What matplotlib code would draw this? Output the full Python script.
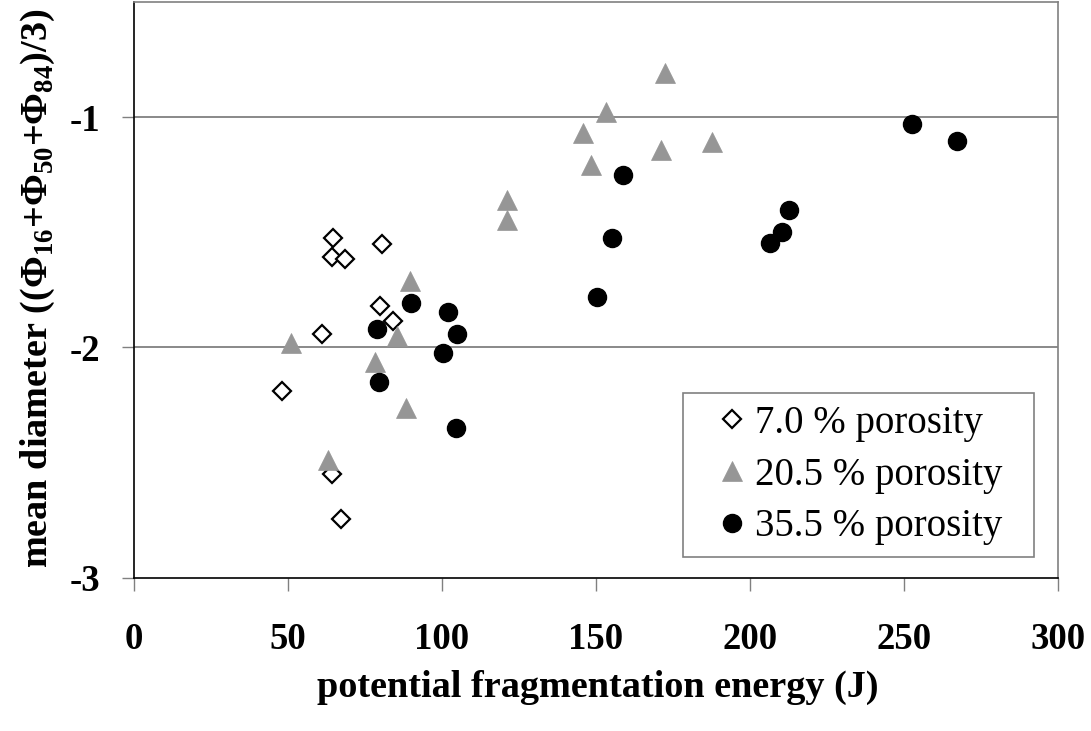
import matplotlib.pyplot as plt

plt.rcParams['font.family'] = ['Liberation Serif', 'DejaVu Serif']
plt.rcParams['mathtext.fontset'] = 'custom'
plt.rcParams['mathtext.rm'] = 'Liberation Serif:bold'
plt.rcParams['mathtext.bf'] = 'Liberation Serif:bold'
plt.rcParams['axes.unicode_minus'] = False

# 7.0 % porosity
energy_7 = [48.0, 61.1, 64.7, 64.2, 68.5, 80.6, 79.9, 84.2, 64.2, 67.2]
diam_7 = [-2.188, -1.940, -1.525, -1.608, -1.617, -1.550, -1.818, -1.883, -2.549, -2.746]

# 20.5 % porosity
energy_20 = [50.9, 89.7, 85.4, 78.1, 88.4, 63.0, 172.5, 153.2, 145.8, 187.6,
             171.2, 148.3, 121.1, 121.1]
diam_20 = [-1.980, -1.712, -1.951, -2.061, -2.264, -2.488, -0.809, -0.978, -1.068, -1.109,
           -1.142, -1.206, -1.359, -1.447]

# 35.5 % porosity
energy_35 = [158.8, 155.3, 150.3, 102.0, 252.5, 267.1, 212.7, 210.3, 206.6, 89.9,
             105.0, 79.0, 100.2, 79.6, 104.4]
diam_35 = [-1.249, -1.524, -1.782, -1.844, -1.030, -1.103, -1.403, -1.499, -1.547, -1.806,
           -1.942, -1.919, -2.023, -2.152, -2.348]

fig = plt.figure(figsize=(10.91, 7.31), dpi=100)
ax = fig.add_axes([0.1228, 0.2097, 0.8469, 0.7874])

# horizontal gridlines only
for yv in [-1, -2]:
    ax.axhline(yv, color='#808080', lw=1.3, zorder=0)

ax.plot(energy_7, diam_7, ls='none', marker='D', ms=9.2, mfc='white', mec='black',
        mew=1.6, label='7.0 % porosity')
ax.plot(energy_20, diam_20, ls='none', marker='^', ms=14.5, mfc='#969696', mec='#969696',
        mew=0.5, label='20.5 % porosity')
ax.plot(energy_35, diam_35, ls='none', marker='o', ms=13, mfc='black', mec='black',
        label='35.5 % porosity')

ax.set_xlim(0, 300)
ax.set_ylim(-3, -0.5)
ax.set_xticks([0, 50, 100, 150, 200, 250, 300])
ax.set_yticks([-3, -2, -1])
ax.tick_params(axis='x', direction='out', length=9, width=1, color='#808080',
               labelsize=26.5, pad=23)
ax.tick_params(axis='y', direction='out', length=9, width=1, color='#808080',
               labelsize=26.5, pad=15)
for lab in ax.get_xticklabels() + ax.get_yticklabels():
    lab.set_fontweight('bold')

ax.spines['left'].set_color('black')
ax.spines['bottom'].set_color('black')
ax.spines['top'].set_color('#808080')
ax.spines['right'].set_color('#808080')
for s in ax.spines.values():
    s.set_linewidth(1.2)

ax.set_xlabel('potential fragmentation energy (J)', fontsize=27.5, fontweight='bold')
ax.xaxis.set_label_coords(0.502, -0.19)
ax.xaxis.label.set_va('center')
ax.set_ylabel(r'mean diameter ((Φ$_{16}$+Φ$_{50}$+Φ$_{84}$)/3)', fontsize=27.5,
              fontweight='bold', va='center')
ax.yaxis.set_label_coords(-0.104, 0.503)

leg = ax.legend(loc='lower left', bbox_to_anchor=(0.5942, 0.036, 0.3798, 0.285),
                mode='expand', borderaxespad=0,
                fontsize=28, frameon=True, fancybox=False, framealpha=1,
                edgecolor='#808080', handlelength=1.91, handletextpad=-0.36,
                borderpad=0.3, labelspacing=0.38, numpoints=1)
leg.get_frame().set_linewidth(1.2)

plt.savefig('out.png', dpi=100)
